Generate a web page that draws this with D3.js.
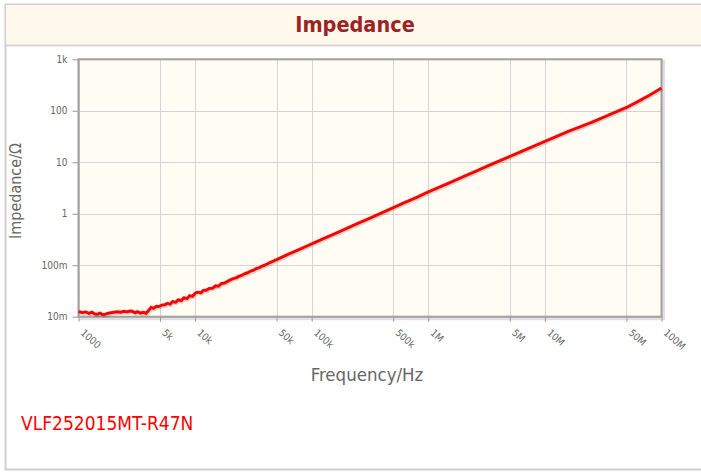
<!DOCTYPE html>
<html><head><meta charset="utf-8">
<script src="https://cdn.jsdelivr.net/npm/d3@7"></script>
<style>
html,body{margin:0;padding:0;background:#fff;}
svg{display:block;}
</style></head>
<body>
<svg id="chart" width="701" height="474"></svg>
<script>
const title = "Impedance";
const seriesName = "VLF252015MT-R47N";
const xLabel = "Frequency/Hz";
const yLabel = "Impedance/Ω";
const xTickValues = [1000, 5000, 10000, 50000, 100000, 500000, 1000000, 5000000, 10000000, 50000000, 100000000];
const xTickLabels = ["1000", "5k", "10k", "50k", "100k", "500k", "1M", "5M", "10M", "50M", "100M"];
const yTickValues = [0.01, 0.1, 1, 10, 100, 1000];
const yTickLabels = ["10m", "100m", "1", "10", "100", "1k"];

const frequency = [1000,1080,1150,1230,1300,1380,1450,1530,1600,1700,1800,1900,2000,2150,2300,2450,2600,2750,2900,3050,3200,3400,3600,3800,4000,4200,4400,4650,4900,5200,5500,5800,6100,6400,6800,7200,7600,8000,8500,9000,9500,10000,10600,11200,11800,12500,13300,14100,15000,15900,16800,17800,18800,20000,21200,22400,23700,25100,26600,28200,29900,31600,33500,35500,37600,39800,42200,44700,47300,50100,56200,63100,70800,79400,89100,100000,125900,158500,199500,251200,316200,398100,501200,631000,794300,1000000,1259000,1585000,1995000,2512000,3162000,3981000,5012000,6310000,7943000,10000000,12590000,15850000,19950000,25120000,31620000,39810000,50120000,63100000,79430000,100000000];
const impedance = [0.0126,0.0120,0.0124,0.0116,0.0123,0.0113,0.0111,0.0118,0.0110,0.0112,0.0117,0.0120,0.0122,0.0125,0.0122,0.0128,0.0124,0.0129,0.0127,0.0119,0.0125,0.0117,0.0122,0.0116,0.0133,0.0152,0.0145,0.0159,0.0158,0.0169,0.0171,0.0182,0.0175,0.0197,0.0190,0.0214,0.0204,0.0234,0.0224,0.0257,0.0248,0.0287,0.0300,0.0290,0.0327,0.0328,0.0355,0.0358,0.0398,0.0390,0.0442,0.0450,0.0480,0.0520,0.0550,0.0568,0.0608,0.0638,0.0682,0.0713,0.0768,0.0798,0.0865,0.0900,0.0960,0.1010,0.1080,0.1150,0.1210,0.1290,0.1450,0.1640,0.1830,0.2060,0.2310,0.2600,0.3270,0.4120,0.519,0.654,0.823,1.036,1.31,1.66,2.09,2.65,3.33,4.18,5.25,6.60,8.28,10.4,13.0,16.3,20.4,25.5,31.9,39.8,48.5,59.5,74.5,93.0,116,152,203,276];

const svg = d3.select("#chart");
const font = "'DejaVu Sans Condensed','DejaVu Sans',sans-serif";

// outer panel
svg.append("rect").attr("x",5.5).attr("y",4.5).attr("width",700).attr("height",465)
  .attr("fill","#fff").attr("stroke","#cfcfcf").attr("stroke-width",2);
svg.append("rect").attr("x",6).attr("y",5).attr("width",695).attr("height",40).attr("fill","#fff9ec");
svg.append("line").attr("x1",6).attr("x2",701).attr("y1",45.5).attr("y2",45.5).attr("stroke","#d6d6d6").attr("stroke-width",2);
svg.append("text").attr("x",355).attr("y",32).attr("text-anchor","middle")
  .attr("font-family",font).attr("font-weight","bold").attr("font-size",21.5).attr("fill","#9b2323").text(title);

const m = {left:78.5, right:661.5, top:59.3, bottom:316.7};
const x = d3.scaleLog().domain([1000, 1e8]).range([m.left, m.right]);
const y = d3.scaleLog().domain([0.01, 1000]).range([m.bottom, m.top]);

// plot shadow + background
svg.append("rect").attr("x",m.left+2).attr("y",m.top+2).attr("width",m.right-m.left).attr("height",m.bottom-m.top)
  .attr("fill","none").attr("stroke","#e0e0e0").attr("stroke-width",3);
svg.append("rect").attr("x",m.left).attr("y",m.top).attr("width",m.right-m.left).attr("height",m.bottom-m.top)
  .attr("fill","#fffcf3");

// grid
const g = svg.append("g");
g.selectAll(".vg").data(xTickValues).join("line")
  .attr("x1",d=>Math.round(x(d))+0.5).attr("x2",d=>Math.round(x(d))+0.5)
  .attr("y1",m.top).attr("y2",m.bottom).attr("stroke","#d4d4d4").attr("stroke-width",1);
g.selectAll(".hg").data(yTickValues).join("line")
  .attr("y1",d=>Math.round(y(d))+0.5).attr("y2",d=>Math.round(y(d))+0.5)
  .attr("x1",m.left).attr("x2",m.right).attr("stroke","#d4d4d4").attr("stroke-width",1);

// axes
const xAxis = d3.axisBottom(x).tickValues(xTickValues).tickFormat((d,i)=>xTickLabels[i]).tickSize(5).tickPadding(6);
const gx = svg.append("g").attr("transform",`translate(0,${m.bottom})`).call(xAxis);
gx.select(".domain").remove();
gx.selectAll(".tick line").attr("stroke","#999");
gx.selectAll(".tick text").attr("font-family",font).attr("font-size",10).attr("fill","#666")
  .attr("text-anchor","start").attr("dy","0").attr("y",0)
  .attr("transform","translate(1,17) rotate(42)");

const yAxis = d3.axisLeft(y).tickValues(yTickValues).tickFormat((d,i)=>yTickLabels[i]).tickSize(6).tickPadding(5);
const gy = svg.append("g").attr("transform",`translate(${m.left},0)`).call(yAxis);
gy.select(".domain").remove();
gy.selectAll(".tick line").attr("stroke","#999");
gy.selectAll(".tick text").attr("font-family",font).attr("font-size",10).attr("fill","#666");

// plot border
svg.append("rect").attr("x",m.left).attr("y",m.top).attr("width",m.right-m.left).attr("height",m.bottom-m.top)
  .attr("fill","none").attr("stroke","#a0a0a0").attr("stroke-width",2);

// line
const data = frequency.map((f,i)=>({f, z:impedance[i]}));
const line = d3.line().x(d=>x(d.f)).y(d=>y(d.z));
svg.append("path").datum(data).attr("d",line).attr("fill","none")
  .attr("stroke","rgba(0,0,0,0.15)").attr("stroke-width",3).attr("transform","translate(1,1.5)");
svg.append("path").datum(data).attr("d",line).attr("fill","none")
  .attr("stroke","#ff0000").attr("stroke-width",3).attr("stroke-linejoin","round");

// axis titles
svg.append("text").attr("x",367).attr("y",381).attr("text-anchor","middle")
  .attr("font-family",font).attr("font-size",18.5).attr("fill","#666").text(xLabel);
svg.append("text").attr("transform","translate(21,191) rotate(-90)").attr("text-anchor","middle")
  .attr("font-family",font).attr("font-size",16).attr("fill","#666").text(yLabel);

// series label
svg.append("text").attr("x",21).attr("y",430)
  .attr("font-family",font).attr("font-size",19).attr("fill","#ff0000").text(seriesName);
</script>
</body></html>
